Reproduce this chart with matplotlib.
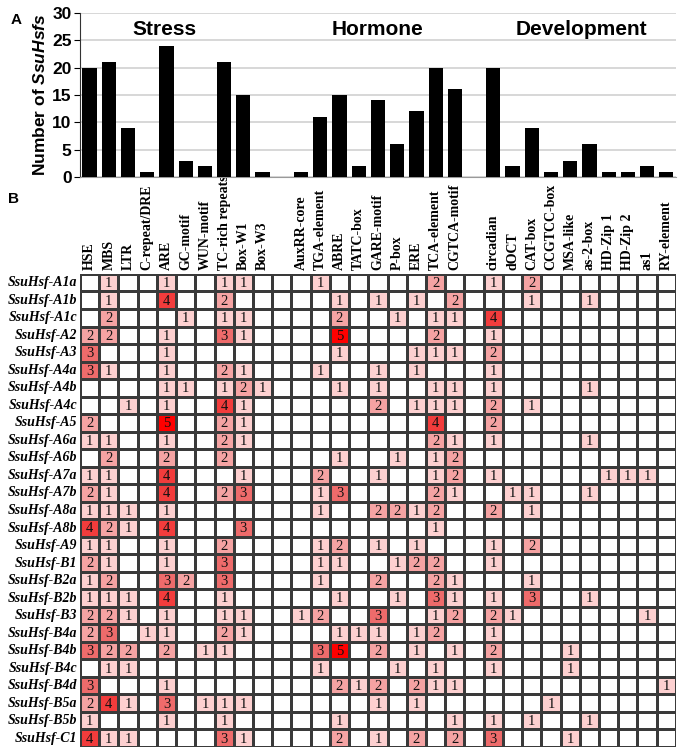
import numpy as np
import matplotlib
matplotlib.use('Agg')
import matplotlib.pyplot as plt
from matplotlib.colors import ListedColormap, BoundaryNorm

plt.rcParams.update({
    'font.family': 'Liberation Sans',
    'mathtext.fontset': 'custom',
    'mathtext.rm': 'Liberation Sans:bold',
    'mathtext.it': 'Liberation Sans:bold:italic',
})

# ---- data -------------------------------------------------------------
stress_labels = ['HSE', 'MBS', 'LTR', 'C-repeat/DRE', 'ARE', 'GC-motif',
                 'WUN-motif', 'TC-rich repeats', 'Box-W1', 'Box-W3']
hormone_labels = ['AuxRR-core', 'TGA-element', 'ABRE', 'TATC-box', 'GARE-motif',
                  'P-box', 'ERE', 'TCA-element', 'CGTCA-motif']
dev_labels = ['circadian', 'dOCT', 'CAT-box', 'CCGTCC-box', 'MSA-like',
              'as-2-box', 'HD-Zip 1', 'HD-Zip 2', 'as1', 'RY-element']

stress_counts = [20, 21, 9, 1, 24, 3, 2, 21, 15, 1]
hormone_counts = [1, 11, 15, 2, 14, 6, 12, 20, 16]
dev_counts = [20, 2, 9, 1, 3, 6, 1, 1, 2, 1]

genes = ['A1a', 'A1b', 'A1c', 'A2', 'A3', 'A4a', 'A4b', 'A4c', 'A5', 'A6a',
         'A6b', 'A7a', 'A7b', 'A8a', 'A8b', 'A9', 'B1', 'B2a', 'B2b', 'B3',
         'B4a', 'B4b', 'B4c', 'B4d', 'B5a', 'B5b', 'C1']

stress_matrix = [
    [0, 1, 0, 0, 1, 0, 0, 1, 1, 0],
    [0, 1, 0, 0, 4, 0, 0, 2, 0, 0],
    [0, 2, 0, 0, 0, 1, 0, 1, 1, 0],
    [2, 2, 0, 0, 1, 0, 0, 3, 1, 0],
    [3, 0, 0, 0, 1, 0, 0, 0, 0, 0],
    [3, 1, 0, 0, 1, 0, 0, 2, 1, 0],
    [0, 0, 0, 0, 1, 1, 0, 1, 2, 1],
    [0, 0, 1, 0, 1, 0, 0, 4, 1, 0],
    [2, 0, 0, 0, 5, 0, 0, 2, 1, 0],
    [1, 1, 0, 0, 1, 0, 0, 2, 1, 0],
    [0, 2, 0, 0, 2, 0, 0, 2, 0, 0],
    [1, 1, 0, 0, 4, 0, 0, 0, 1, 0],
    [2, 1, 0, 0, 4, 0, 0, 2, 3, 0],
    [1, 1, 1, 0, 1, 0, 0, 0, 0, 0],
    [4, 2, 1, 0, 4, 0, 0, 0, 3, 0],
    [1, 1, 0, 0, 1, 0, 0, 2, 0, 0],
    [2, 1, 0, 0, 1, 0, 0, 3, 0, 0],
    [1, 2, 0, 0, 3, 2, 0, 3, 0, 0],
    [1, 1, 1, 0, 4, 0, 0, 1, 0, 0],
    [2, 2, 1, 0, 1, 0, 0, 1, 1, 0],
    [2, 3, 0, 1, 1, 0, 0, 2, 1, 0],
    [3, 2, 2, 0, 2, 0, 1, 1, 0, 0],
    [0, 1, 1, 0, 0, 0, 0, 0, 0, 0],
    [3, 0, 0, 0, 1, 0, 0, 0, 0, 0],
    [2, 4, 1, 0, 3, 0, 1, 1, 1, 0],
    [1, 0, 0, 0, 1, 0, 0, 1, 0, 0],
    [4, 1, 1, 0, 0, 0, 0, 3, 1, 0],
]

hormone_matrix = [
    [0, 1, 0, 0, 0, 0, 0, 2, 0],
    [0, 0, 1, 0, 1, 0, 1, 0, 2],
    [0, 0, 2, 0, 0, 1, 0, 1, 1],
    [0, 0, 5, 0, 0, 0, 0, 2, 0],
    [0, 0, 1, 0, 0, 0, 1, 1, 1],
    [0, 1, 0, 0, 1, 0, 1, 0, 0],
    [0, 0, 1, 0, 1, 0, 0, 1, 1],
    [0, 0, 0, 0, 2, 0, 1, 1, 1],
    [0, 0, 0, 0, 0, 0, 0, 4, 0],
    [0, 0, 0, 0, 0, 0, 0, 2, 1],
    [0, 0, 1, 0, 0, 1, 0, 1, 2],
    [0, 2, 0, 0, 1, 0, 0, 1, 2],
    [0, 1, 3, 0, 0, 0, 0, 2, 1],
    [0, 1, 0, 0, 2, 2, 1, 2, 0],
    [0, 0, 0, 0, 0, 0, 0, 1, 0],
    [0, 1, 2, 0, 1, 0, 1, 0, 0],
    [0, 1, 1, 0, 0, 1, 2, 2, 0],
    [0, 1, 0, 0, 2, 0, 0, 2, 1],
    [0, 0, 1, 0, 0, 1, 0, 3, 1],
    [1, 2, 0, 0, 3, 0, 0, 1, 2],
    [0, 0, 1, 1, 1, 0, 1, 2, 0],
    [0, 3, 5, 0, 2, 0, 1, 0, 1],
    [0, 1, 0, 0, 0, 1, 0, 1, 0],
    [0, 0, 2, 1, 2, 0, 2, 1, 1],
    [0, 0, 0, 0, 1, 0, 1, 0, 0],
    [0, 0, 1, 0, 0, 0, 0, 0, 1],
    [0, 0, 2, 0, 1, 0, 2, 0, 2],
]

dev_matrix = [
    [1, 0, 2, 0, 0, 0, 0, 0, 0, 0],
    [0, 0, 1, 0, 0, 1, 0, 0, 0, 0],
    [4, 0, 0, 0, 0, 0, 0, 0, 0, 0],
    [1, 0, 0, 0, 0, 0, 0, 0, 0, 0],
    [2, 0, 0, 0, 0, 0, 0, 0, 0, 0],
    [1, 0, 0, 0, 0, 0, 0, 0, 0, 0],
    [1, 0, 0, 0, 0, 1, 0, 0, 0, 0],
    [2, 0, 1, 0, 0, 0, 0, 0, 0, 0],
    [2, 0, 0, 0, 0, 0, 0, 0, 0, 0],
    [1, 0, 0, 0, 0, 1, 0, 0, 0, 0],
    [0, 0, 0, 0, 0, 0, 0, 0, 0, 0],
    [1, 0, 0, 0, 0, 0, 1, 1, 1, 0],
    [0, 1, 1, 0, 0, 1, 0, 0, 0, 0],
    [2, 0, 1, 0, 0, 0, 0, 0, 0, 0],
    [0, 0, 0, 0, 0, 0, 0, 0, 0, 0],
    [1, 0, 2, 0, 0, 0, 0, 0, 0, 0],
    [1, 0, 0, 0, 0, 0, 0, 0, 0, 0],
    [0, 0, 1, 0, 0, 0, 0, 0, 0, 0],
    [1, 0, 3, 0, 0, 1, 0, 0, 0, 0],
    [2, 1, 0, 0, 0, 0, 0, 0, 1, 0],
    [1, 0, 0, 0, 0, 0, 0, 0, 0, 0],
    [2, 0, 0, 0, 1, 0, 0, 0, 0, 0],
    [1, 0, 0, 0, 1, 0, 0, 0, 0, 0],
    [0, 0, 0, 0, 0, 0, 0, 0, 0, 1],
    [0, 0, 0, 1, 0, 0, 0, 0, 0, 0],
    [1, 0, 1, 0, 0, 1, 0, 0, 0, 0],
    [3, 0, 0, 0, 1, 0, 0, 0, 0, 0],
]

# ---- layout: one slot per element, one empty slot between groups ------
n_s, n_h, n_d = len(stress_labels), len(hormone_labels), len(dev_labels)
x_s = np.arange(n_s)
x_h = np.arange(n_h) + n_s + 1
x_d = np.arange(n_d) + n_s + n_h + 2
n_slots = n_s + n_h + n_d + 2

fig = plt.figure(figsize=(6.8, 7.5), dpi=100)

# ---- panel B (drawn first so panel A sits on top) ---------------------
n_rows = len(genes)
grid = np.ma.masked_all((n_rows, n_slots))
grid[:, x_s] = np.array(stress_matrix)
grid[:, x_h] = np.array(hormone_matrix)
grid[:, x_d] = np.array(dev_matrix)

colors = ['#ffffff', '#fdd0d0', '#f5a3a3', '#ee6b6b', '#f23c3c', '#ff0000']
cmap = ListedColormap(colors)
norm = BoundaryNorm(np.arange(-0.5, 6.5, 1), cmap.N)

axB = fig.add_axes([0.1176, 0.004, 0.8764, 0.6307])
xe = np.arange(n_slots + 1)
ye = np.arange(n_rows + 1)
# filled cells with a thin white rim, then the dark grid on top
axB.pcolormesh(xe, ye, grid, cmap=cmap, norm=norm,
               edgecolors='white', linewidth=2.0)
axB.pcolormesh(xe, ye, grid, facecolor='none', edgecolors='#3a3a3a',
               linewidth=1.0)
axB.set_xlim(0, n_slots)
axB.set_ylim(n_rows, 0)
axB.axis('off')

for r in range(n_rows):
    for c in range(n_slots):
        if grid.mask[r, c]:
            continue
        v = int(grid[r, c])
        if v > 0:
            axB.text(c + 0.5, r + 0.55, str(v), ha='center', va='center',
                     fontsize=10.5, family='Liberation Serif', color='#111111')

for r, g in enumerate(genes):
    axB.text(-0.15, r + 0.5, 'SsuHsf-' + g, ha='right', va='center',
             fontsize=10, family='Liberation Serif', fontweight='bold',
             style='italic')

for xs, labs in [(x_s, stress_labels), (x_h, hormone_labels), (x_d, dev_labels)]:
    for xi, lab in zip(xs, labs):
        axB.text(xi + 0.5, -0.2, lab, rotation=90, ha='center', va='bottom',
                 fontsize=10, family='Liberation Serif', fontweight='bold',
                 clip_on=False)

# ---- panel A ----------------------------------------------------------
axA = fig.add_axes([0.1176, 0.764, 0.8764, 0.219])
axA.patch.set_alpha(0)
for xs, cnt in [(x_s, stress_counts), (x_h, hormone_counts), (x_d, dev_counts)]:
    axA.bar(xs + 0.5, cnt, width=0.74, color='black', zorder=3)
axA.set_xlim(0, n_slots)
axA.set_ylim(0, 30)
axA.set_yticks(np.arange(0, 31, 5))
axA.set_xticks([])
axA.yaxis.grid(True, color='#d4d4d4', lw=1.3, zorder=0)
for s in ['top', 'right']:
    axA.spines[s].set_visible(False)
axA.spines['bottom'].set_color('#9a9a9a')
axA.spines['left'].set_color('#333333')
axA.tick_params(axis='y', labelsize=12.5, length=4, direction='out', pad=2)
for lab in axA.get_yticklabels():
    lab.set_fontweight('bold')
axA.set_ylabel(r'Number of $\mathit{SsuHsfs}$', fontsize=12.5,
               fontweight='bold', labelpad=3)
for txt, xc in [('Stress', 4.4), ('Hormone', 15.5), ('Development', 26.1)]:
    axA.text(xc, 27, txt, ha='center', va='center', fontsize=15,
             fontweight='bold')

fig.text(0.016, 0.973, 'A', fontsize=11, fontweight='bold', ha='left', va='center')
fig.text(0.012, 0.735, 'B', fontsize=11, fontweight='bold', ha='left', va='center')

fig.savefig('out.png', dpi=100)
